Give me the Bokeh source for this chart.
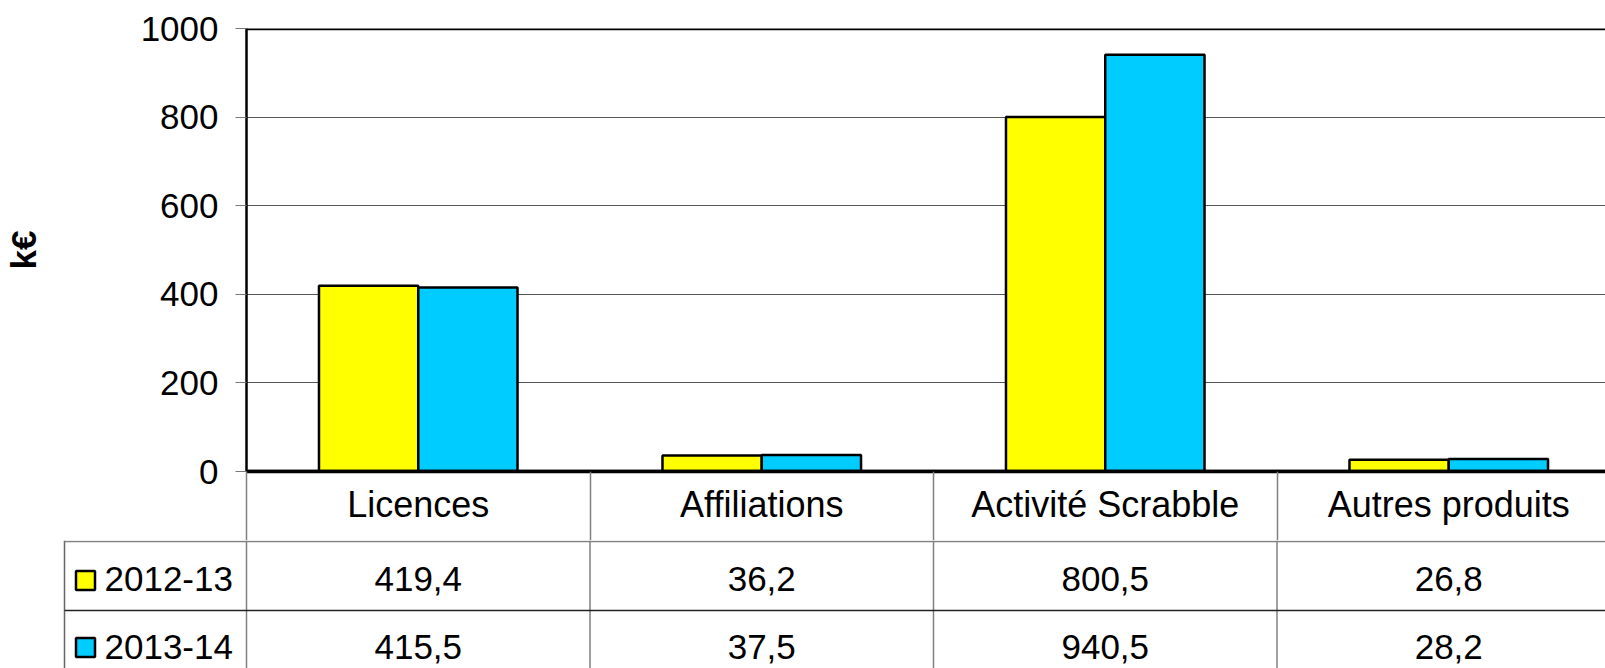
from bokeh.plotting import figure
from bokeh.models import Range1d, Span, FixedTicker, ColumnDataSource, LinearAxis
from bokeh.layouts import column
from bokeh.embed import file_html
from bokeh.resources import INLINE
from bokeh.core.properties import value

# ---- data ----
categories = ["Licences", "Affiliations", "Activité Scrabble", "Autres produits"]
series_names = ["2012-13", "2013-14"]
values_2012_13 = [419.4, 36.2, 800.5, 26.8]
values_2013_14 = [415.5, 37.5, 940.5, 28.2]
labels_2012_13 = ["419,4", "36,2", "800,5", "26,8"]
labels_2013_14 = ["415,5", "37,5", "940,5", "28,2"]
y_ticks = [0, 200, 400, 600, 800, 1000]
colors = ["#FFFF00", "#00CCFF"]

FONT = "Liberation Sans"
FS = "35px"
FS_CAT = "36px"

# layout (page pixels)
frame_left = 246
page_right = 1605
cat_w = 343.5
x_end = (page_right - frame_left) / cat_w
x_start2 = (0 - frame_left) / cat_w
W = page_right
HEAD = 69  # header row height (category names), drawn by the chart's x axis

centers = [i + 0.5 for i in range(len(categories))]
bounds = list(range(len(categories)))
bar_w = 0.289

# ---- chart figure ----
p = figure(width=W, height=471 + HEAD, output_backend="svg", toolbar_location=None,
           x_range=Range1d(0, x_end), y_range=Range1d(0, 1000),
           x_axis_location=None,
           min_border_left=frame_left, min_border_right=0,
           min_border_top=28, min_border_bottom=HEAD)
p.frame_align = False
p.outline_line_color = None
p.xgrid.visible = False
p.ygrid.ticker = FixedTicker(ticks=y_ticks)
p.ygrid.grid_line_color = "#555555"
p.ygrid.grid_line_width = 1

# bottom axis: category names as labels, minor ticks = column separators of the table
xa = LinearAxis(ticker=FixedTicker(ticks=centers, minor_ticks=bounds))
xa.major_label_overrides = dict(zip(centers, categories))
xa.major_label_text_font = FONT
xa.major_label_text_font_size = FS_CAT
xa.major_label_text_color = "black"
xa.major_tick_in = 0
xa.major_tick_out = 0
xa.minor_tick_in = 0
xa.minor_tick_out = HEAD
xa.minor_tick_line_color = "#808080"
xa.minor_tick_line_width = 1.5
xa.axis_line_color = "black"
xa.axis_line_width = 3.5
xa.major_label_standoff = 12 - HEAD
p.add_layout(xa, "below")

ax = p.yaxis[0]
ax.ticker = FixedTicker(ticks=y_ticks)
ax.major_label_text_font = FONT
ax.major_label_text_font_size = FS
ax.major_label_text_color = "black"
ax.major_tick_out = 11
ax.major_tick_in = 0
ax.minor_tick_out = 0
ax.minor_tick_in = 0
ax.major_tick_line_color = "#777777"
ax.axis_line_color = "black"
ax.axis_line_width = 2.5
ax.major_label_standoff = 17
ax.axis_label = "k€"
ax.axis_label_text_font = FONT
ax.axis_label_text_font_size = FS
ax.axis_label_text_font_style = "bold"
ax.axis_label_text_color = "black"
ax.axis_label_standoff = 95

src = ColumnDataSource(dict(
    x1=[c - bar_w / 2 for c in centers],
    x2=[c + bar_w / 2 for c in centers],
    v1=values_2012_13, v2=values_2013_14))
p.vbar(x="x1", top="v1", width=bar_w, bottom=0, source=src,
       fill_color=colors[0], line_color="black", line_width=2.5)
p.vbar(x="x2", top="v2", width=bar_w, bottom=0, source=src,
       fill_color=colors[1], line_color="black", line_width=2.5)

p.add_layout(Span(location=1000, dimension="width", line_color="black", line_width=3.5))
p.add_layout(Span(location=0, dimension="width", line_color="black", line_width=3.5))

# ---- data table figure (y in pixels below the zero line) ----
t = figure(width=W, height=668 - 471 - HEAD, output_backend="svg", toolbar_location=None,
           x_range=Range1d(x_start2, x_end), y_range=Range1d(197, HEAD),
           min_border=0, min_border_left=0, min_border_right=0,
           min_border_top=0, min_border_bottom=0)
t.frame_align = False
t.xaxis.visible = False
t.yaxis.visible = False
t.grid.visible = False
t.outline_line_color = None

leg_left = (64 - frame_left) / cat_w
row_top = [HEAD + 1, 139]
row_mid = [107, 175]
key_mid = [109, 176]

# grid of the table
t.segment(x0=bounds, y0=[HEAD] * len(bounds), x1=bounds, y1=[197] * len(bounds),
          line_color="#808080", line_width=1.5)
t.segment(x0=[leg_left], y0=[HEAD], x1=[leg_left], y1=[197],
          line_color="#666666", line_width=1.5)
t.segment(x0=[leg_left, leg_left], y0=row_top, x1=[x_end, x_end], y1=row_top,
          line_color=["#808080", "#222222"], line_width=1.5)

t.text(x=centers, y=[row_mid[0]] * len(categories), text=labels_2012_13,
       text_font=value(FONT), text_font_size=FS, text_align="center",
       text_baseline="middle", text_color="black")
t.text(x=centers, y=[row_mid[1]] * len(categories), text=labels_2013_14,
       text_font=value(FONT), text_font_size=FS, text_align="center",
       text_baseline="middle", text_color="black")

# legend keys
key_x = (85 - frame_left) / cat_w
lab_x = (104 - frame_left) / cat_w
t.rect(x=[key_x, key_x], y=key_mid, width=19, height=19,
       width_units="screen", height_units="screen",
       fill_color=colors, line_color="black", line_width=2.5)
t.text(x=[lab_x, lab_x], y=row_mid, text=series_names,
       text_font=value(FONT), text_font_size=FS, text_align="left",
       text_baseline="middle", text_color="black")

layout = column(p, t, spacing=0)
open("out.html", "w").write(file_html(layout, INLINE))
